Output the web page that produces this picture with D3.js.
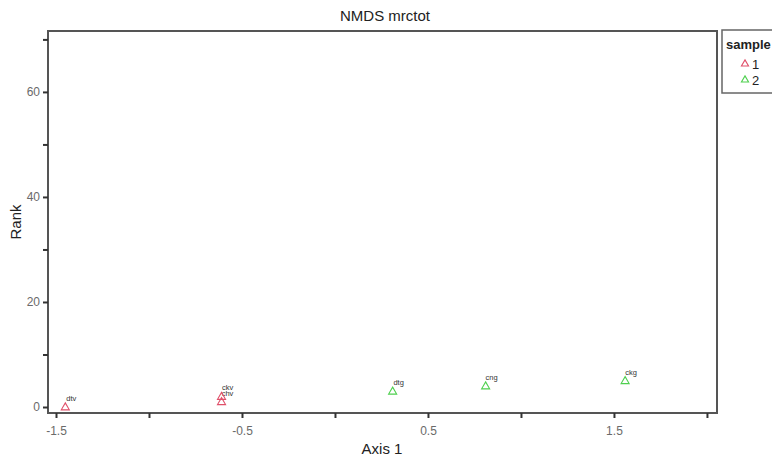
<!DOCTYPE html>
<html><head><meta charset="utf-8">
<script src="https://cdn.jsdelivr.net/npm/d3@7/dist/d3.min.js"></script>
<style>body{margin:0;background:#fff;}svg{display:block;font-family:"Liberation Sans",Arial,sans-serif;}</style>
</head><body>
<svg id="c" width="772" height="462"></svg>
<script>
const names = ["dtv","chv","ckv","dtg","cng","ckg"];
const axis1 = [-1.45,-0.61,-0.61,0.31,0.81,1.56];
const rank = [0,1,2,3,4,5];
const sample = ["1","1","1","2","2","2"];
const xTicks = [-1.5,-1,-0.5,0,0.5,1,1.5,2];
const xLabels = ["-1.5","","-0.5","","0.5","","1.5",""];
const yTicks = [0,10,20,30,40,50,60,70];
const yLabels = ["0","","20","","40","","60",""];
const groups = ["1","2"];
const colors = ["#e0506a","#4fd04f"];

const svg = d3.select("#c");
const L=48,T=31,R=717,B=413;
const x = d3.scaleLinear().domain([-1.543,2.054]).range([L,R]);
const y = d3.scaleLinear().domain([-1.14,71.6]).range([B,T]);
const col = d3.scaleOrdinal().domain(groups).range(colors);

svg.append("rect").attr("x",L).attr("y",T).attr("width",R-L).attr("height",B-T)
  .attr("fill","none").attr("stroke","#555").attr("stroke-width",2);

const gx = svg.append("g").attr("transform",`translate(0,${B})`)
  .call(d3.axisBottom(x).tickValues(xTicks).tickSize(5).tickPadding(8).tickFormat((d,i)=>xLabels[i]));
const gy = svg.append("g").attr("transform",`translate(${L},0)`)
  .call(d3.axisLeft(y).tickValues(yTicks).tickSize(5).tickPadding(3).tickFormat((d,i)=>yLabels[i]));
[gx,gy].forEach(g=>{
  g.select(".domain").remove();
  g.selectAll(".tick line").attr("stroke","#333").attr("stroke-width",2);
  g.selectAll(".tick text").attr("fill","#6a6a6a").style("font-size","12px").style("font-family","Liberation Sans, Arial, sans-serif");
});

const tri = d3.symbol().type(d3.symbolTriangle).size(28);
const pts = svg.append("g");
names.forEach((n,i)=>{
  pts.append("path").attr("d",tri)
    .attr("transform",`translate(${x(axis1[i])},${y(rank[i])+0.5})`)
    .attr("fill","none").attr("stroke",col(sample[i])).attr("stroke-width",1.1);
  pts.append("text").attr("x",x(axis1[i])+6).attr("y",y(rank[i])-6 - (n==="ckv"?1:0))
    .attr("text-anchor","middle").style("font-size","7.5px").attr("fill","#333").text(n);
});

svg.append("text").attr("x",385).attr("y",21).attr("text-anchor","middle")
  .style("font-size","15px").attr("fill","#222").text("NMDS mrctot");
svg.append("text").attr("x",382).attr("y",454).attr("text-anchor","middle")
  .style("font-size","15px").attr("fill","#222").text("Axis 1");
svg.append("text").attr("transform","translate(21,222) rotate(-90)").attr("text-anchor","middle")
  .style("font-size","15px").attr("fill","#222").text("Rank");

const lg = svg.append("g");
lg.append("rect").attr("x",722).attr("y",30).attr("width",60).attr("height",63)
  .attr("fill","#fff").attr("stroke","#666").attr("stroke-width",1.5);
lg.append("text").attr("x",726).attr("y",49).style("font-size","13px").style("font-weight","bold").attr("fill","#222").text("sample");
groups.forEach((g,i)=>{
  lg.append("path").attr("d",d3.symbol().type(d3.symbolTriangle).size(22))
    .attr("transform",`translate(745,${64+i*16})`).attr("fill","none").attr("stroke",col(g)).attr("stroke-width",1.1);
  lg.append("text").attr("x",752).attr("y",69+i*16).style("font-size","13px").attr("fill","#222").text(g);
});
</script>
</body></html>
